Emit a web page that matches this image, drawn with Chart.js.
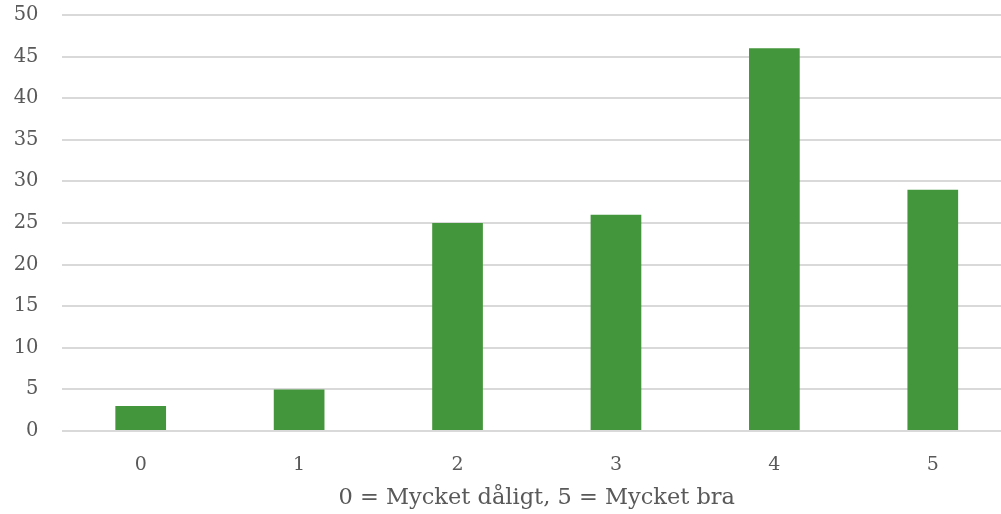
<!DOCTYPE html>
<html>
<head>
<meta charset="utf-8">
<script src="https://cdn.jsdelivr.net/npm/chart.js@4"></script>
<style>
  html, body { margin: 0; padding: 0; background: #ffffff; overflow: hidden; }
  #wrap { width: 1012px; height: 514px; position: relative; }
</style>
</head>
<body>
<div id="wrap"><canvas id="c"></canvas></div>
<script>
// Betyg 0–5 och antal svar per betyg
const categories = ['0', '1', '2', '3', '4', '5'];
const counts = [3, 5, 25, 26, 46, 29];
const axisTitle = '0 = Mycket dåligt, 5 = Mycket bra';
const yMin = 0, yMax = 50, yStep = 5;

const textColor = '#595959';
const fontFamily = '"DejaVu Serif", Georgia, serif';

new Chart(document.getElementById('c'), {
  type: 'bar',
  data: {
    labels: categories,
    datasets: [{
      data: counts,
      backgroundColor: '#43963B',
      borderWidth: 0,
      barPercentage: 1,
      categoryPercentage: 0.32
    }]
  },
  options: {
    responsive: true,
    maintainAspectRatio: false,
    animation: false,
    layout: { padding: { top: 15, left: 0, right: 0, bottom: 0 } },
    plugins: { legend: { display: false }, tooltip: { enabled: false } },
    scales: {
      x: {
        grid: { display: false },
        border: { display: false },
        ticks: { color: textColor, font: { family: fontFamily, size: 19 }, padding: 15, maxRotation: 0 },
        title: {
          display: true,
          text: axisTitle,
          color: textColor,
          font: { family: fontFamily, size: 22.5 },
          padding: { top: 0, bottom: 2 }
        },
        afterFit(scale) {
          scale.height = 83;
          scale.paddingLeft = 0;
          scale.paddingRight = 0;
        }
      },
      y: {
        min: yMin,
        max: yMax,
        ticks: { stepSize: yStep, color: textColor, font: { family: fontFamily, size: 19.5 }, padding: 23 },
        grid: { color: '#D9D9D9', lineWidth: 2, drawTicks: false },
        border: { display: false },
        afterFit(scale) {
          scale.width = 61.5;
          scale.paddingTop = 0;
          scale.paddingBottom = 0;
        }
      }
    }
  }
});
</script>
</body>
</html>
